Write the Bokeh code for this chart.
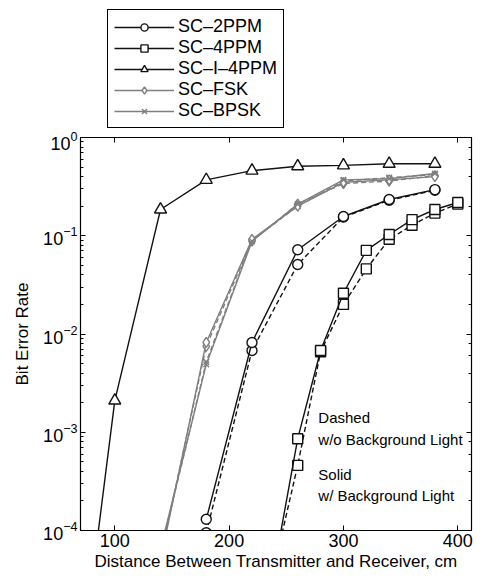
from bokeh.plotting import figure
from bokeh.layouts import column
from bokeh.models import Range1d, LogAxis, LinearAxis, Legend, LegendItem, Label, FixedTicker
from bokeh.embed import file_html
from bokeh.resources import INLINE

# ---------------- data ----------------
x_2ppm = [180, 220, 260, 300, 340, 380]
y_2ppm_solid = [1.3e-4, 0.0082, 0.072, 0.157, 0.234, 0.295]
y_2ppm_dashed = [9.5e-5, 0.0068, 0.051, 0.155, 0.23, 0.29]

x_4ppm = [240, 260, 280, 300, 320, 340, 360, 380, 400]
y_4ppm_solid = [4.5e-5, 8.6e-4, 0.0068, 0.026, 0.071, 0.103, 0.146, 0.185, 0.218]
y_4ppm_dashed = [4.5e-5, 4.6e-4, 0.0066, 0.020, 0.046, 0.092, 0.128, 0.170, 0.210]

x_i4ppm = [80, 100, 140, 180, 220, 260, 300, 340, 380]
y_i4ppm = [3e-5, 2.1e-3, 0.185, 0.37, 0.46, 0.51, 0.52, 0.54, 0.54]

x_fsk = [140, 180, 220, 260, 300, 340, 380]
y_fsk_solid = [5e-5, 0.0082, 0.092, 0.20, 0.35, 0.37, 0.40]
y_fsk_dashed = [5.5e-5, 0.0075, 0.088, 0.21, 0.34, 0.36, 0.41]

x_bpsk = [140, 180, 220, 260, 300, 340, 380]
y_bpsk_solid = [6.5e-5, 0.0049, 0.088, 0.21, 0.37, 0.38, 0.43]
y_bpsk_dashed = [6e-5, 0.0052, 0.090, 0.20, 0.36, 0.39, 0.42]

legend_labels = ["SC–2PPM", "SC–4PPM", "SC–I–4PPM", "SC–FSK", "SC–BPSK"]
x_ticks = [100, 200, 300, 400]

FONT = "Liberation Sans"
BLACK = "#111111"
GRAY = "#7f7f7f"
LW = 1.4
DASH = "5 3"

p = figure(
    frame_width=391, frame_height=393,
    min_border_left=80, min_border_right=25, min_border_top=6, min_border_bottom=50,
    y_axis_type="log",
    x_range=Range1d(70, 412), y_range=Range1d(1e-4, 1),
    output_backend="svg", toolbar_location=None,
    background_fill_color="white", border_fill_color="white",
)
p.xgrid.visible = False
p.ygrid.visible = False
p.outline_line_color = "black"
p.outline_line_width = 1.2

xa = p.xaxis[0]
xa.ticker = FixedTicker(ticks=x_ticks)
ya = p.yaxis[0]
for ax in (xa, ya):
    ax.major_tick_in = 5
    ax.major_tick_out = 0
    ax.minor_tick_in = 3
    ax.minor_tick_out = 0
    ax.axis_line_color = "black"
    ax.major_tick_line_color = "black"
    ax.minor_tick_line_color = "black"
    ax.major_label_text_font = FONT
    ax.major_label_text_font_size = "18px"
    ax.major_label_text_color = "black"
    ax.axis_label_text_font = FONT
    ax.axis_label_text_font_size = "17px"
    ax.axis_label_text_font_style = "normal"
    ax.axis_label_text_color = "black"
xa.axis_label = "Distance Between Transmitter and Receiver, cm"
xa.major_label_standoff = 3
xa.axis_label_standoff = 2
ya.axis_label = "Bit Error Rate"
ya.major_label_standoff = 3
ya.axis_label_standoff = 8

top_ax = LinearAxis(ticker=FixedTicker(ticks=x_ticks))
right_ax = LogAxis()
for ax in (top_ax, right_ax):
    ax.major_tick_in = 5
    ax.major_tick_out = 0
    ax.minor_tick_in = 3
    ax.minor_tick_out = 0
    ax.major_label_text_font_size = "2px"
    ax.major_label_text_alpha = 0.0
    ax.major_label_standoff = 0
p.add_layout(top_ax, "above")
p.add_layout(right_ax, "right")


def series(fig, x, y, color, marker, size, dash="solid"):
    ln = fig.line(x, y, line_color=color, line_width=LW, line_dash=dash)
    sc = fig.scatter(x, y, marker=marker, size=size, line_color=color,
                     fill_color="white", line_width=LW)
    return ln, sc

# dashed (w/o background light)
series(p, x_2ppm, y_2ppm_dashed, BLACK, "circle", 10, DASH)
series(p, x_4ppm, y_4ppm_dashed, BLACK, "square", 10, DASH)
series(p, x_fsk, y_fsk_dashed, GRAY, "diamond", 10, DASH)
series(p, x_bpsk, y_bpsk_dashed, GRAY, "x", 8, DASH)

# solid (w/ background light)
series(p, x_2ppm, y_2ppm_solid, BLACK, "circle", 10)
series(p, x_4ppm, y_4ppm_solid, BLACK, "square", 10)
series(p, x_i4ppm, y_i4ppm, BLACK, "triangle", 12)
series(p, x_fsk, y_fsk_solid, GRAY, "diamond", 10)
series(p, x_bpsk, y_bpsk_solid, GRAY, "x", 8)

for txt, yv in [("Dashed", 1.41e-3), ("w/o Background Light", 8.4e-4),
                ("Solid", 3.7e-4), ("w/ Background Light", 2.27e-4)]:
    p.add_layout(Label(x=278, y=yv, text=txt, text_font=FONT, text_font_size="15px",
                       text_color="black", text_baseline="middle"))

# ---------------- legend strip above the axes ----------------
lg = figure(width=496, height=131, x_range=Range1d(0, 1), y_range=Range1d(0, 1),
            x_axis_type=None, y_axis_type=None, min_border=0,
            output_backend="svg", toolbar_location=None,
            outline_line_color=None, background_fill_color="white",
            border_fill_color="white")
lg.xgrid.visible = False
lg.ygrid.visible = False
styles = [(BLACK, "circle", 10), (BLACK, "square", 10), (BLACK, "triangle", 12),
          (GRAY, "diamond", 10), (GRAY, "x", 8)]
items = []
for lab, (c, m, s) in zip(legend_labels, styles):
    # key glyphs only: their single point lies outside this strip's ranges
    r = series(lg, [5], [5], c, m, s)
    items.append(LegendItem(label=lab, renderers=list(r)))
legend = Legend(
    items=items, location=(27, 3),
    label_text_font=FONT, label_text_font_size="18px", label_text_color="black",
    glyph_width=60, glyph_height=18, label_standoff=4, spacing=0, padding=6,
    margin=0, border_line_color="black", border_line_width=1.8, border_line_alpha=1.0,
    background_fill_color="white", background_fill_alpha=1.0,
)
lg.add_layout(legend)

layout = column(lg, p, spacing=0)
open("out.html", "w").write(file_html(layout, INLINE))
